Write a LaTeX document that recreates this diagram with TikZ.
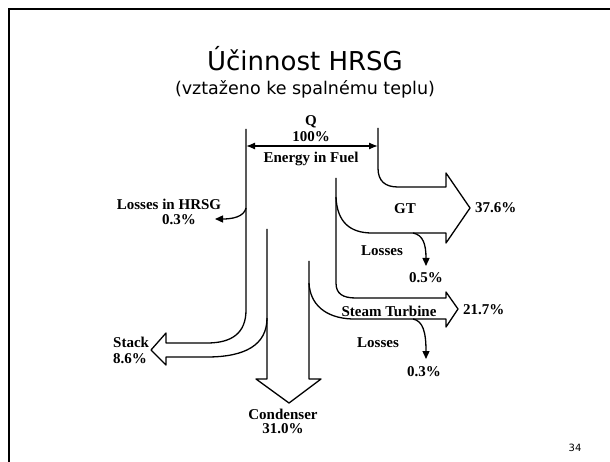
\documentclass[tikz,border=0pt]{standalone}
\usepackage{fontspec}
\setmainfont{Liberation Serif}
\newfontfamily\titlefont{DejaVu Sans}
\usetikzlibrary{arrows.meta}
\begin{document}
\begin{tikzpicture}[x=1pt,y=-1pt,
  band/.style={line width=1.3pt,line join=round},
  lbl/.style={font=\fontsize{15}{15}\selectfont\bfseries,anchor=base,inner sep=0pt},
  lossarrow/.style={line width=1.3pt,-{Triangle[width=7pt,length=8pt]}},
  fuelarrow/.style={line width=1.3pt,{Latex[width=7pt,length=9pt]}-{Latex[width=7pt,length=9pt]}}]
\useasboundingbox (0,0) rectangle (610,462);
% frame
\draw[line width=2.5pt] (9,462) -- (9,9) -- (610,9);
% title
\node[font=\titlefont\fontsize{26}{26}\selectfont,anchor=base,inner sep=0pt] (title) at (305,71) {Účinnost HRSG};
\node[font=\titlefont\fontsize{17.5}{17.5}\selectfont,anchor=base,inner sep=0pt] (subtitle) at (305,95) {(vztaženo ke spalnému teplu)};
% coordinates
\coordinate (fl) at (246,146);
\coordinate (fr) at (378,146);
% fuel arrow
\draw[fuelarrow] (fl) -- (fr);
% left main line -> stack upper edge
\draw[band] (246,129) -- (246,310) .. controls (246,333) and (232,343) .. (207,343) -- (166,343)
  -- (166,333) -- (151,350) -- (166,365) -- (166,357) -- (207,357)
  .. controls (245,357) and (267,345) .. (267,318);
% condenser
\draw[band] (267,229) -- (267,379) -- (256,379) -- (289,403) -- (321,379) -- (309,379) -- (309,261);
% GT
\draw[band] (378,128) -- (378,168) .. controls (378,181) and (385,187) .. (398,187) -- (446,187)
  -- (446,173) -- (470,208) -- (446,243) -- (446,233) -- (372,233)
  .. controls (350,233) and (337,222) .. (336,197);
\draw[band] (336,178) -- (336,283) .. controls (336,294) and (343,298) .. (356,298) -- (446,298)
  -- (446,292) -- (458,309) -- (446,327) -- (446,319) -- (352,319)
  .. controls (325,318) and (310,304) .. (309,283);
% losses arrows
\coordinate (lh0) at (246,208);
\coordinate (lh1) at (215,219);
\draw[lossarrow] (lh0) .. controls (244,217) and (232,219) .. (lh1);
\coordinate (lg0) at (413,233);
\coordinate (lg1) at (426,266);
\draw[lossarrow] (lg0) .. controls (423,235) and (426,244) .. (lg1);
\coordinate (ls0) at (413,319);
\coordinate (ls1) at (426,359);
\draw[lossarrow] (ls0) .. controls (423,321) and (426,332) .. (ls1);
% labels
\node[lbl] (q) at (311,126) {Q};
\node[lbl] (pct100) at (311,142) {100\%};
\node[lbl] (energy) at (311,163) {Energy in Fuel};
\node[lbl] (lhrsg) at (169,210) {Losses in HRSG};
\node[lbl] (lhrsgp) at (179,225) {0.3\%};
\node[lbl] (gt) at (405,214) {GT};
\node[lbl,anchor=base west] (gtp) at (475,213) {37.6\%};
\node[lbl] (lgt) at (382,256) {Losses};
\node[lbl] (lgtp) at (426,282) {0.5\%};
\node[lbl] (st) at (389,316) {Steam Turbine};
\node[lbl,anchor=base west] (stp) at (463,314) {21.7\%};
\node[lbl] (lst) at (378,347) {Losses};
\node[lbl] (lstp) at (424,376) {0.3\%};
\node[lbl,anchor=base west] (stack) at (113,347) {Stack};
\node[lbl,anchor=base west] (stackp) at (113,363) {8.6\%};
\node[lbl] (cond) at (283,419) {Condenser};
\node[lbl] (condp) at (283,433) {31.0\%};
\node[font=\titlefont\fontsize{10}{10}\selectfont,anchor=base] (pg) at (575,451) {34};
\end{tikzpicture}
\end{document}
